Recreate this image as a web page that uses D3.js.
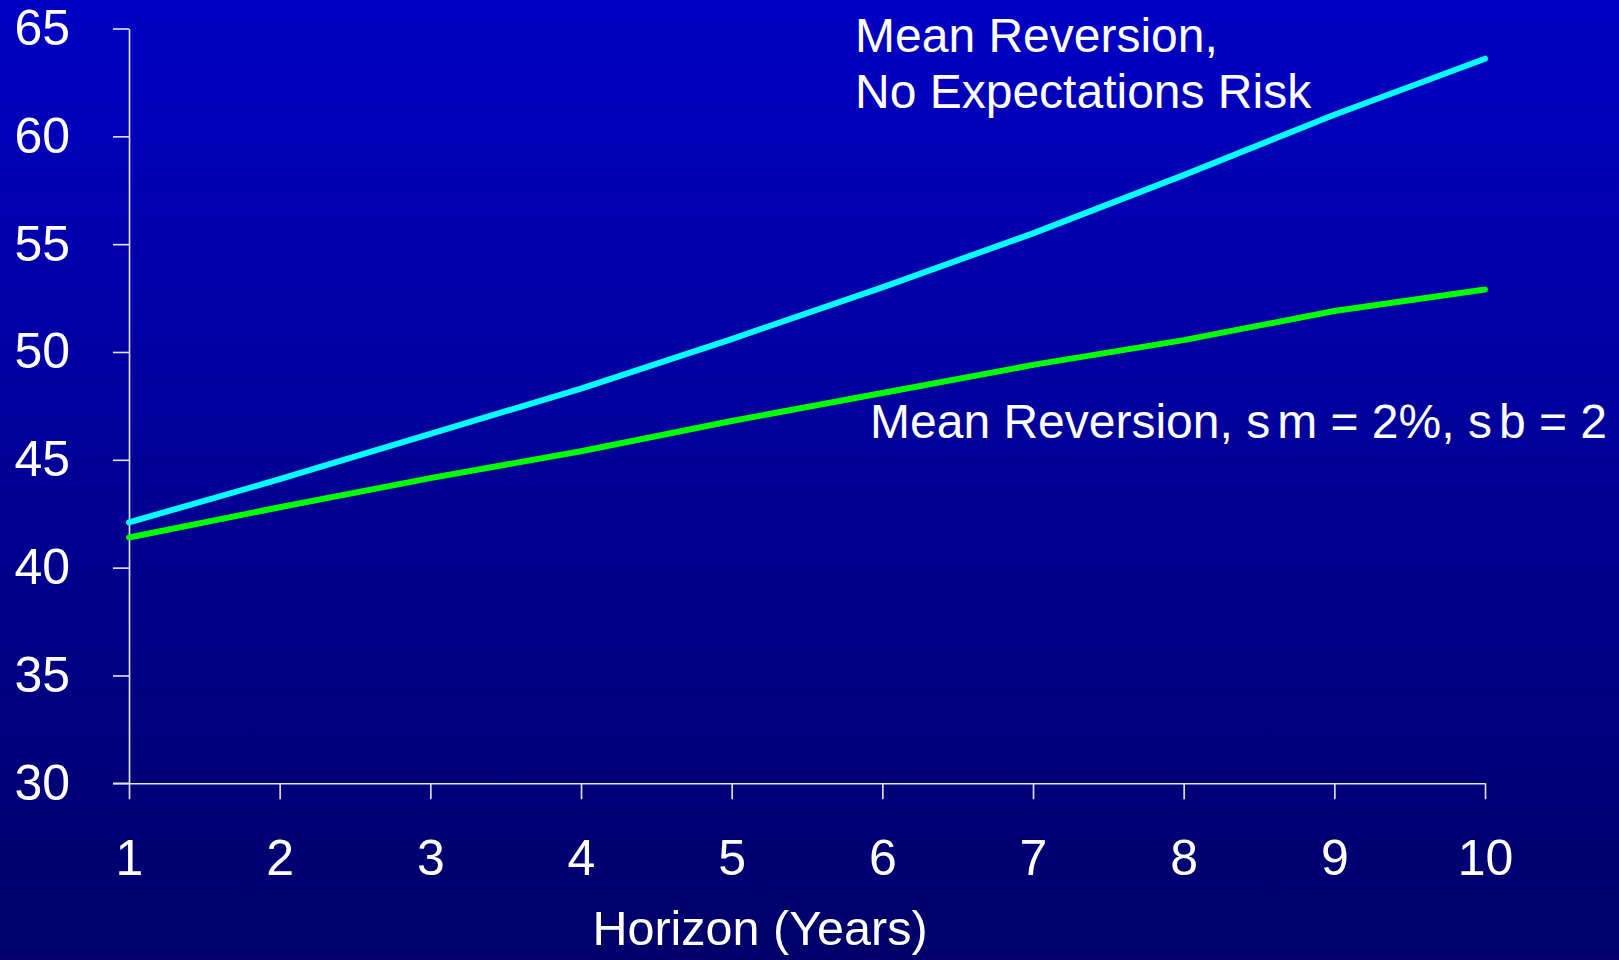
<!DOCTYPE html>
<html>
<head>
<meta charset="utf-8">
<script src="https://cdn.jsdelivr.net/npm/d3@7/dist/d3.min.js"></script>
<style>
  html, body { margin: 0; padding: 0; background: #00006a; }
  svg { display: block; }
  text { font-family: "Liberation Sans", Arial, sans-serif; fill: #ffffff; }
</style>
</head>
<body>
<script>
// ---- Data ----
const horizons = [1, 2, 3, 4, 5, 6, 7, 8, 9, 10];
const noExpectationsRisk = [42.1, 44.1, 46.2, 48.3, 50.6, 53.0, 55.5, 58.2, 61.0, 63.6];
const meanReversion = [41.4, 42.8, 44.15, 45.4, 46.8, 48.1, 49.4, 50.55, 51.9, 52.9];
const yTicks = [30, 35, 40, 45, 50, 55, 60, 65];
const xTickLabels = ["1", "2", "3", "4", "5", "6", "7", "8", "9", "10"];
const xAxisTitle = "Horizon (Years)";
const labelTopLines = ["Mean Reversion,", "No Expectations Risk"];

const W = 1619, H = 960;
const svg = d3.select("body").append("svg").attr("width", W).attr("height", H);

const defs = svg.append("defs");
const grad = defs.append("linearGradient").attr("id", "bg").attr("x1", 0).attr("y1", 0).attr("x2", 0).attr("y2", 1);
grad.append("stop").attr("offset", "0%").attr("stop-color", "#0000c4");
grad.append("stop").attr("offset", "100%").attr("stop-color", "#000068");
svg.append("rect").attr("width", W).attr("height", H).attr("fill", "url(#bg)");

const x = d3.scaleLinear().domain([1, 10]).range([129, 1485]);
const y = d3.scaleLinear().domain([30, 65]).range([783.3, 28.5]);

const axisColor = "#e6e6f0";

// Y axis
const yAxis = svg.append("g").attr("transform", `translate(${x(1)},0)`)
  .call(d3.axisLeft(y).tickValues(yTicks).tickSize(16).tickSizeOuter(0).tickPadding(43).tickFormat(d3.format("d")));
yAxis.select(".domain").attr("stroke", axisColor).attr("stroke-width", 1.6);
yAxis.selectAll(".tick line").attr("stroke", axisColor).attr("stroke-width", 1.6);
yAxis.selectAll(".tick text").attr("font-size", 50).attr("fill", "#fff")
  .attr("font-family", "'Liberation Sans', Arial, sans-serif");

// X axis
const xAxis = svg.append("g").attr("transform", `translate(0,${y(30)})`)
  .call(d3.axisBottom(x).tickValues(horizons).tickSize(16).tickSizeOuter(0).tickPadding(40)
    .tickFormat((d, i) => xTickLabels[i]));
xAxis.select(".domain").attr("stroke", axisColor).attr("stroke-width", 1.6);
xAxis.selectAll(".tick line").attr("stroke", axisColor).attr("stroke-width", 1.6);
xAxis.selectAll(".tick text").attr("font-size", 50).attr("fill", "#fff")
  .attr("font-family", "'Liberation Sans', Arial, sans-serif");

// extend x-axis domain left to the y tick (30)
svg.append("line").attr("x1", x(1) - 16).attr("x2", x(1)).attr("y1", y(30)).attr("y2", y(30))
  .attr("stroke", axisColor).attr("stroke-width", 1.6);

// Lines
const line = d3.line().x((d, i) => x(horizons[i])).y(d => y(d));
svg.append("path").datum(meanReversion).attr("d", line)
  .attr("fill", "none").attr("stroke", "#00ff00").attr("stroke-width", 6)
  .attr("stroke-linecap", "round").attr("stroke-linejoin", "round");
svg.append("path").datum(noExpectationsRisk).attr("d", line)
  .attr("fill", "none").attr("stroke", "#00ffff").attr("stroke-width", 6)
  .attr("stroke-linecap", "round").attr("stroke-linejoin", "round");

// Annotations
const ann = svg.append("text").attr("x", 855).attr("y", 52).attr("font-size", 48);
ann.append("tspan").attr("x", 855).attr("y", 52).text(labelTopLines[0]);
ann.append("tspan").attr("x", 855).attr("y", 108).text(labelTopLines[1]);

const ann2 = svg.append("text").attr("x", 870).attr("y", 438).attr("font-size", 48);
ann2.append("tspan").text("Mean Reversion, s");
ann2.append("tspan").attr("dx", 7).text("m = 2%, s");
ann2.append("tspan").attr("dx", 7).text("b = 2");

// X axis title
svg.append("text").attr("x", 760).attr("y", 945).attr("text-anchor", "middle")
  .attr("font-size", 48.5).text(xAxisTitle);
</script>
</body>
</html>
